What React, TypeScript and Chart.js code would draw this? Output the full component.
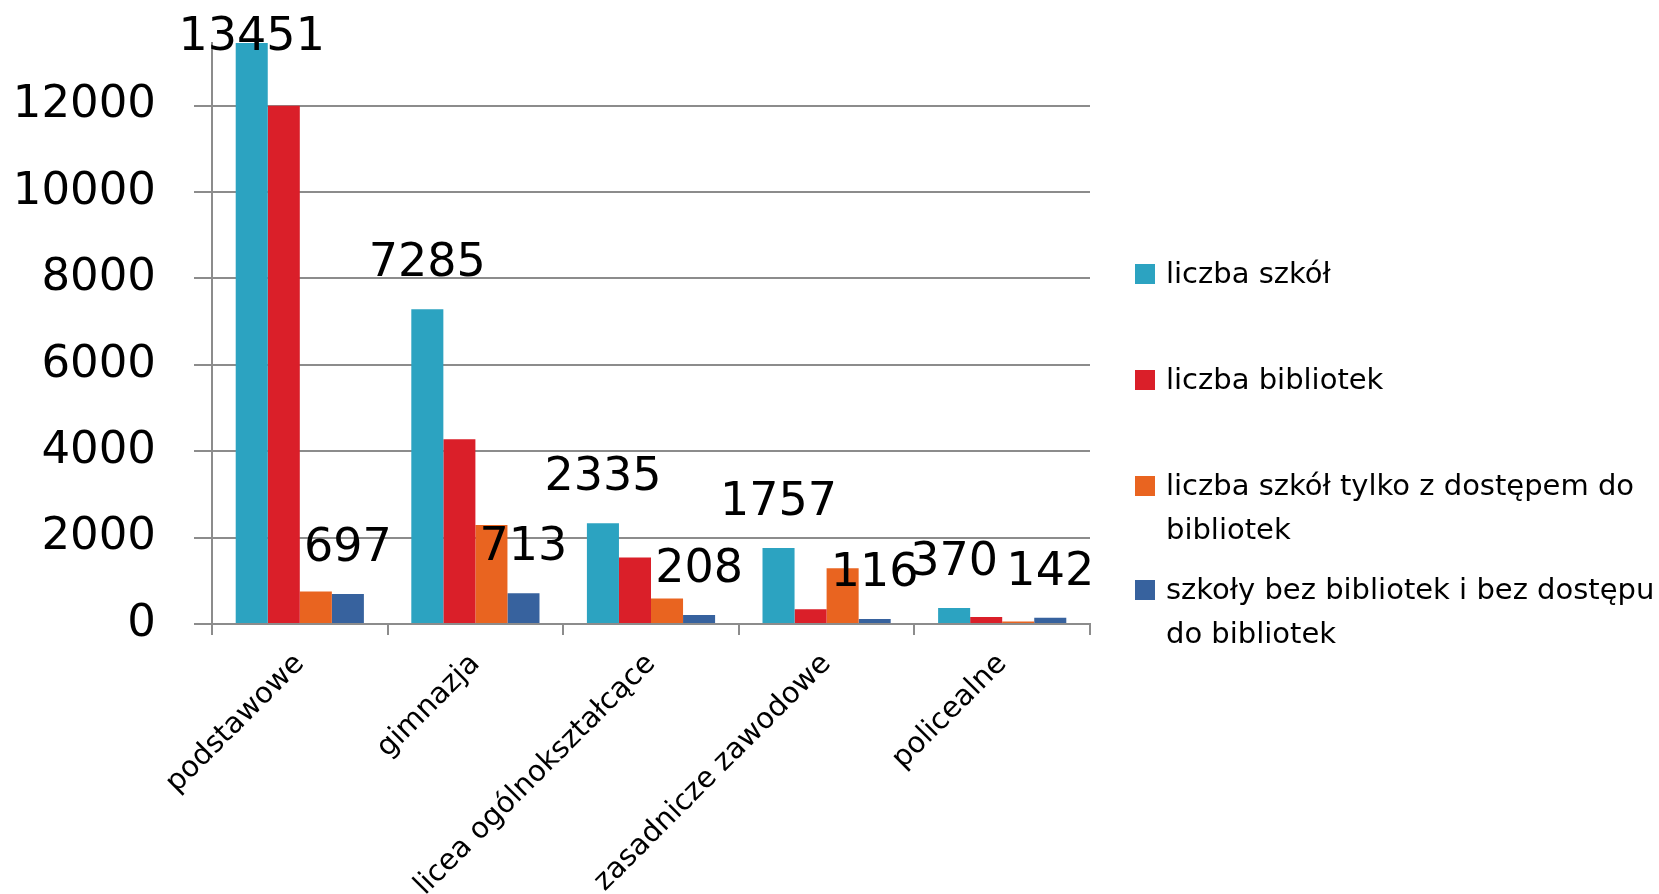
import React, { useEffect, useRef } from "react";
import { Chart, registerables } from "chart.js";

Chart.register(...registerables);

const categories = [
  "podstawowe",
  "gimnazja",
  "licea ogólnokształcące",
  "zasadnicze zawodowe",
  "policealne",
];

const liczbaSzkol = [13451, 7285, 2335, 1757, 370];
const liczbaBibliotek = [12000, 4280, 1540, 340, 160];
const tylkoDostep = [750, 2290, 590, 1290, 60];
const bezBibliotek = [697, 713, 208, 116, 142];

const seriesNames = [
  "liczba szkół",
  "liczba bibliotek",
  "liczba szkół tylko z dostępem do bibliotek",
  "szkoły bez bibliotek i bez dostępu do bibliotek",
];
const legendLines = [
  ["liczba szkół"],
  ["liczba bibliotek"],
  ["liczba szkół tylko z dostępem do", "bibliotek"],
  ["szkoły bez bibliotek i bez dostępu", "do bibliotek"],
];
const seriesColors = ["#2ca3c1", "#da1f29", "#e96420", "#37629e"];
const labelledSeries = [0, 3];

const yMax = 13451;
const yTickValues = [0, 2000, 4000, 6000, 8000, 10000, 12000];

const FONT = "'DejaVu Sans', sans-serif";
const GRID = "#8c8c8c";

const dataLabelsPlugin = {
  id: "dataLabels",
  afterDatasetsDraw(chart: any) {
    const ctx = chart.ctx;
    ctx.save();
    ctx.font = `46px ${FONT}`;
    ctx.fillStyle = "#000";
    ctx.textAlign = "center";
    ctx.textBaseline = "alphabetic";
    labelledSeries.forEach((di) => {
      const meta = chart.getDatasetMeta(di);
      const data = chart.data.datasets[di].data as number[];
      meta.data.forEach((bar: any, i: number) => {
        const y = Math.max(bar.y - 33, 50);
        ctx.fillText(String(data[i]), bar.x, y);
      });
    });
    ctx.restore();
  },
};

const legendPlugin = {
  id: "customLegend",
  afterDraw(chart: any) {
    const ctx = chart.ctx;
    const boxX = 1135;
    const textX = 1166;
    const boxTops = [264, 370, 476, 580];
    ctx.save();
    ctx.font = `29px ${FONT}`;
    ctx.textAlign = "left";
    ctx.textBaseline = "alphabetic";
    legendLines.forEach((lines, i) => {
      const top = boxTops[i];
      ctx.fillStyle = seriesColors[i];
      ctx.fillRect(boxX, top, 20, 20);
      ctx.fillStyle = "#000";
      lines.forEach((line, j) => {
        ctx.fillText(line, textX, top + 19 + j * 44);
      });
    });
    ctx.restore();
  },
};

export default function App() {
  const ref = useRef<HTMLCanvasElement | null>(null);

  useEffect(() => {
    if (!ref.current) return;
    const seriesValues = [liczbaSzkol, liczbaBibliotek, tylkoDostep, bezBibliotek];
    const chart = new Chart(ref.current, {
      type: "bar",
      data: {
        labels: categories,
        datasets: seriesValues.map((vals, i) => ({
          label: seriesNames[i],
          data: vals,
          backgroundColor: seriesColors[i],
          borderWidth: 0,
          categoryPercentage: 0.73,
          barPercentage: 1,
        })),
      },
      options: {
        animation: false,
        responsive: false,
        devicePixelRatio: 1,
        layout: { padding: { top: 43, right: 569, bottom: 0, left: 0 } },
        plugins: {
          legend: { display: false },
          tooltip: { enabled: false },
          title: { display: false },
        },
        scales: {
          x: {
            offset: true,
            grid: {
              display: true,
              drawOnChartArea: false,
              drawTicks: true,
              tickLength: 11,
              color: GRID,
              lineWidth: 2,
              offset: true,
            },
            border: { display: true, color: GRID, width: 2 },
            ticks: {
              autoSkip: false,
              maxRotation: 45,
              minRotation: 45,
              padding: 12,
              color: "#000",
              font: { family: FONT, size: 29 },
            },
            afterFit(scale: any) {
              scale.height = 270;
              scale.paddingLeft = 0;
              scale.paddingRight = 0;
            },
          },
          y: {
            min: 0,
            max: yMax,
            grid: {
              color: GRID,
              lineWidth: 2,
              drawTicks: true,
              tickLength: 18,
            },
            border: { display: true, color: GRID, width: 2 },
            ticks: {
              padding: 38,
              color: "#000",
              font: { family: FONT, size: 45 },
              callback: (v: any) => String(v),
            },
            afterBuildTicks(scale: any) {
              scale.ticks = yTickValues.map((v) => ({ value: v }));
            },
            afterFit(scale: any) {
              scale.width = 212;
              scale.paddingTop = 0;
              scale.paddingBottom = 0;
            },
          },
        },
      },
      plugins: [dataLabelsPlugin, legendPlugin],
    });
    return () => chart.destroy();
  }, []);

  return (
    <div style={{ position: "fixed", left: 0, top: 0, width: 1659, height: 894, background: "#fff" }}>
      <canvas ref={ref} width={1659} height={894} style={{ width: 1659, height: 894, display: "block" }} />
    </div>
  );
}
